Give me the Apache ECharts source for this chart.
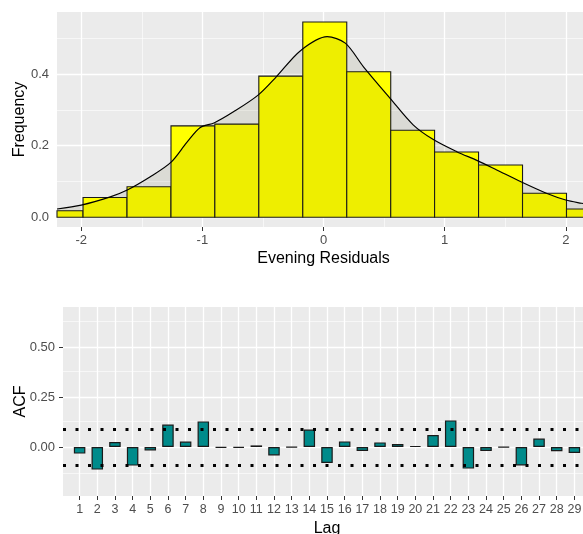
<!DOCTYPE html>
<html>
<head>
<meta charset="utf-8">
<script src="https://cdn.jsdelivr.net/npm/echarts@6/dist/echarts.min.js"></script>
<style>
  html, body { margin: 0; padding: 0; background: #fff; overflow: hidden; }
  #chart { width: 591px; height: 534px; }
</style>
</head>
<body>
<div id="chart"></div>
<script>
// histogram of evening residuals (density scale) + fitted density
const binEdges = [-2.348, -1.985, -1.622, -1.259, -0.897, -0.534, -0.171, 0.192, 0.555, 0.917, 1.280, 1.643, 2.006, 2.368];
const binFreq = [0.018, 0.055, 0.085, 0.255, 0.260, 0.394, 0.545, 0.406, 0.243, 0.182, 0.146, 0.067, 0.023];
const densityX = [-2.2, -2.0, -1.76, -1.62, -1.43, -1.26, -1.13, -1.02, -0.9, -0.74, -0.54, -0.39, -0.19, 0.03, 0.18, 0.33, 0.55, 0.74, 0.91, 1.10, 1.27, 1.43, 1.63, 1.84, 2.0, 2.13, 2.2];
const densityY = [0.023, 0.034, 0.057, 0.076, 0.113, 0.153, 0.208, 0.250, 0.264, 0.295, 0.341, 0.392, 0.465, 0.504, 0.486, 0.420, 0.332, 0.258, 0.216, 0.183, 0.158, 0.132, 0.099, 0.067, 0.048, 0.039, 0.035];
const residTicks = [-2, -1, 0, 1, 2];
const residMinor = [-1.5, -0.5, 0.5, 1.5];
const freqTicks = [0, 0.2, 0.4];
const freqMinor = [0.1, 0.3, 0.5];

// autocorrelation of the residuals
const lags = [1, 2, 3, 4, 5, 6, 7, 8, 9, 10, 11, 12, 13, 14, 15, 16, 17, 18, 19, 20, 21, 22, 23, 24, 25, 26, 27, 28, 29];
const acfValues = [-0.033, -0.113, 0.025, -0.093, -0.017, 0.112, 0.027, 0.128, -0.003, -0.004, 0.008, -0.042, -0.002, 0.087, -0.080, 0.028, -0.020, 0.023, 0.015, 0.005, 0.060, 0.133, -0.108, -0.020, -0.002, -0.092, 0.042, -0.021, -0.030];
const acfTicks = [0, 0.25, 0.5];
const acfMinor = [-0.125, 0.125, 0.375, 0.625];
const confBound = 0.0925;

const chart = echarts.init(document.getElementById('chart'));
const FONT = '"Liberation Sans", Arial, sans-serif';
const PANEL = '#ebebeb';

const gridLine = (key, vals, width) => vals.map((v) => ({ [key]: v, lineStyle: { width } }));

function gridSeries(xIdx, yIdx, data) {
  return {
    type: 'line', xAxisIndex: xIdx, yAxisIndex: yIdx, data: [], z: 1, silent: true,
    markLine: {
      z: 1, silent: true, symbol: 'none', animation: false,
      label: { show: false },
      lineStyle: { color: '#ffffff', type: 'solid' },
      emphasis: { disabled: true },
      data,
    },
  };
}

const axisLbl = (vals, fmt, extra) => Object.assign({
  customValues: vals, color: '#4d4d4d', fontSize: 13, fontFamily: FONT, formatter: fmt,
}, extra);
const tick = (vals) => ({ show: true, customValues: vals, length: 4, lineStyle: { color: '#333', width: 1 } });
const nameStyle = { color: '#000', fontSize: 16, fontFamily: FONT };

chart.setOption({
  animation: false,
  backgroundColor: '#fff',
  grid: [
    { left: 57, top: 12, width: 533, height: 215, show: true, backgroundColor: PANEL, borderWidth: 0, outerBoundsMode: 'none', containLabel: false },
    { left: 63, top: 307, width: 528, height: 189, show: true, backgroundColor: PANEL, borderWidth: 0, outerBoundsMode: 'none', containLabel: false },
  ],
  xAxis: [
    {
      type: 'value', gridIndex: 0, min: -2.2, max: 2.2,
      name: 'Evening Residuals', nameLocation: 'middle', nameGap: 24, nameMoveOverlap: false, nameTextStyle: nameStyle,
      axisLine: { show: false, onZero: false }, axisTick: tick(residTicks),
      axisLabel: axisLbl(residTicks, (v) => String(v), { margin: 7 }),
      splitLine: { show: false },
    },
    {
      type: 'value', gridIndex: 1, min: 0.06, max: 29.94,
      name: 'Lag', nameLocation: 'middle', nameGap: 25, nameMoveOverlap: false, nameTextStyle: nameStyle,
      axisLine: { show: false, onZero: false }, axisTick: tick(lags),
      axisLabel: axisLbl(lags, (v) => String(v), { margin: 7, fontSize: 12.5 }),
      splitLine: { show: false },
    },
  ],
  yAxis: [
    {
      type: 'value', gridIndex: 0, min: -0.0273, max: 0.573,
      name: 'Frequency', nameLocation: 'middle', nameGap: 29, nameMoveOverlap: false, nameRotate: 90, nameTextStyle: nameStyle,
      axisLine: { show: false }, axisTick: tick(freqTicks),
      axisLabel: axisLbl(freqTicks, (v) => v.toFixed(1), { margin: 8 }),
      splitLine: { show: false },
    },
    {
      type: 'value', gridIndex: 1, min: -0.245, max: 0.7,
      name: 'ACF', nameLocation: 'middle', nameGap: 34, nameMoveOverlap: false, nameRotate: 90, nameTextStyle: nameStyle,
      axisLine: { show: false }, axisTick: tick(acfTicks),
      axisLabel: axisLbl(acfTicks, (v) => v.toFixed(2), { margin: 8 }),
      splitLine: { show: false },
    },
  ],
  series: [
    gridSeries(0, 0, [
      ...gridLine('yAxis', freqMinor, 0.6), ...gridLine('xAxis', residMinor, 0.6),
      ...gridLine('yAxis', freqTicks, 1.3), ...gridLine('xAxis', residTicks, 1.3),
    ]),
    gridSeries(1, 1, [
      ...gridLine('yAxis', acfMinor, 0.6),
      ...gridLine('yAxis', acfTicks, 1.3), ...gridLine('xAxis', lags, 1.3),
    ]),
    {
      type: 'custom', xAxisIndex: 0, yAxisIndex: 0, z: 2,
      data: binFreq.map((f, i) => [binEdges[i], binEdges[i + 1], f]),
      encode: { x: [0, 1], y: 2 },
      renderItem(params, api) {
        const p0 = api.coord([api.value(0), api.value(2)]);
        const p1 = api.coord([api.value(1), 0]);
        const cs = params.coordSys;
        const shape = echarts.graphic.clipRectByRect(
          { x: p0[0], y: p0[1], width: p1[0] - p0[0], height: p1[1] - p0[1] },
          { x: cs.x, y: cs.y, width: cs.width, height: cs.height }
        );
        return shape && { type: 'rect', shape, style: { fill: '#ffff00', stroke: '#1a1a1a', lineWidth: 1.1 } };
      },
    },
    {
      type: 'line', xAxisIndex: 0, yAxisIndex: 0, z: 3,
      data: densityX.map((x, i) => [x, densityY[i]]),
      smooth: 0.3, showSymbol: false, symbol: 'none',
      lineStyle: { color: '#000', width: 1.2 },
      areaStyle: { color: 'rgba(70,70,0,0.13)', origin: 'auto' },
    },
    {
      type: 'bar', xAxisIndex: 1, yAxisIndex: 1, z: 2,
      data: lags.map((l, i) => [l, acfValues[i]]),
      barWidth: 11.5,
      itemStyle: { color: '#008b8b', borderColor: '#1a1a1a', borderWidth: 1.2 },
      markLine: {
        z: 5, silent: true, symbol: 'none', animation: false,
        label: { show: false },
        lineStyle: { color: '#000', width: 3, type: [3, 9.5], cap: 'butt' },
        data: [{ yAxis: confBound }, { yAxis: -confBound }],
      },
    },
  ],
});
</script>
</body>
</html>
